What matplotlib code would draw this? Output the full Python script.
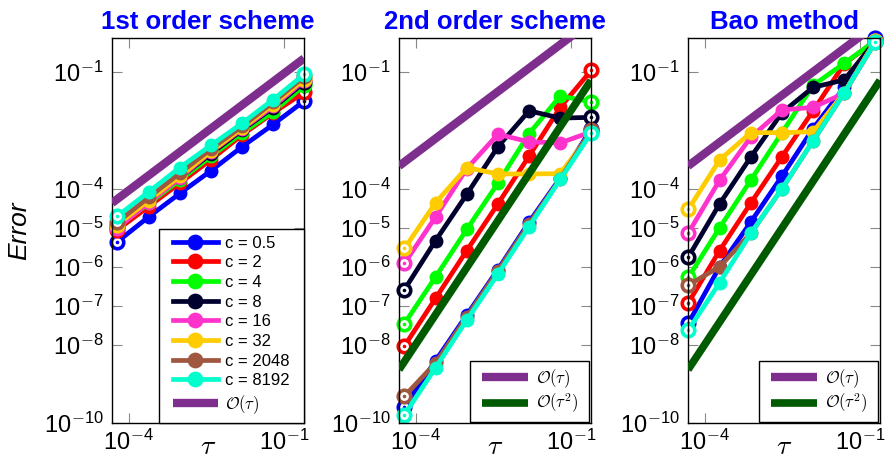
import matplotlib
matplotlib.use('Agg')
import matplotlib.pyplot as plt
from matplotlib.patches import Rectangle
from matplotlib.ticker import FixedLocator, FixedFormatter, NullLocator

plt.rcParams['font.family'] = ['Liberation Sans', 'DejaVu Sans']
plt.rcParams['mathtext.fontset'] = 'cm'

# ---------------- data ----------------
tau_12 = [6.1035e-5, 2.4414e-4, 9.7656e-4, 3.9063e-3, 1.5625e-2, 6.25e-2, 0.25]
tau_3 = [4.8828e-5, 1.9531e-4, 7.8125e-4, 3.125e-3, 1.25e-2, 5.0e-2, 0.2]

c_labels = ['c = 0.5', 'c = 2', 'c = 4', 'c = 8', 'c = 16', 'c = 32', 'c = 2048', 'c = 8192']
c_colors = ['#0000FF', '#FF0000', '#00FF00', '#00002E', '#FF33CC', '#FFCC00', '#A0573F', '#00FFCC']

# 1st order scheme (one row per c)
first_order = [
    [4.4e-6, 1.9e-5, 7.6e-5, 2.9e-4, 1.2e-3, 4.5e-3, 1.8e-2],
    [8.9e-6, 3.5e-5, 1.4e-4, 5.6e-4, 2.4e-3, 8.9e-3, 3.0e-2],
    [1.05e-5, 4.2e-5, 1.66e-4, 6.8e-4, 2.7e-3, 9.5e-3, 4.5e-2],
    [1.1e-5, 4.7e-5, 1.9e-4, 7.9e-4, 3.2e-3, 1.2e-2, 5.4e-2],
    [1.0e-5, 4.4e-5, 1.9e-4, 8.7e-4, 3.4e-3, 1.3e-2, 6.0e-2],
    [1.2e-5, 5.0e-5, 2.1e-4, 9.1e-4, 3.6e-3, 1.45e-2, 6.6e-2],
    [1.4e-5, 6.0e-5, 2.5e-4, 1.05e-3, 4.0e-3, 1.66e-2, 7.6e-2],
    [2.0e-5, 8.3e-5, 3.5e-4, 1.3e-3, 4.8e-3, 1.95e-2, 8.7e-2],
]

# 2nd order scheme
second_order = [
    [2.6e-10, 3.9e-9, 5.8e-8, 8.5e-7, 1.4e-5, 1.9e-4, 3.5e-3],
    [9.3e-9, 1.55e-7, 2.6e-6, 4.1e-5, 6.9e-4, 1.23e-2, 1.1e-1],
    [3.5e-8, 5.5e-7, 9.1e-6, 1.4e-4, 2.6e-3, 2.4e-2, 1.7e-2],
    [2.6e-7, 4.7e-6, 7.2e-5, 1.2e-3, 1.0e-2, 6.5e-3, 6.8e-3],
    [1.23e-6, 1.9e-5, 3.3e-4, 2.5e-3, 1.6e-3, 1.5e-3, 2.9e-3],
    [2.95e-6, 4.4e-5, 3.5e-4, 2.4e-4, 2.4e-4, 2.45e-4, 2.8e-3],
    [4.8e-10, 3.4e-9, 5.2e-8, 7.9e-7, 1.26e-5, 1.8e-4, 3.2e-3],
    [1.6e-10, 2.6e-9, 4.3e-8, 6.5e-7, 1.07e-5, 1.74e-4, 2.75e-3],
]

# Bao method
bao_method = [
    [3.6e-8, 1.0e-6, 1.4e-5, 2.1e-4, 3.5e-3, 4.0e-2, 0.74],
    [1.2e-7, 2.6e-6, 4.3e-5, 6.6e-4, 1.0e-2, 1.6e-1, 0.63],
    [5.4e-7, 1.0e-5, 1.66e-4, 2.75e-3, 4.5e-2, 1.66e-1, 0.63],
    [1.8e-6, 4.1e-5, 6.5e-4, 8.9e-3, 4.0e-2, 6.2e-2, 0.62],
    [7.4e-6, 1.66e-4, 2.1e-3, 1.05e-2, 1.23e-2, 2.8e-2, 0.63],
    [3.0e-5, 5.5e-4, 2.75e-3, 2.75e-3, 2.9e-3, 2.9e-2, 0.63],
    [3.4e-7, 1.0e-6, 7.2e-6, 1.0e-4, 1.7e-3, 2.9e-2, 0.59],
    [2.4e-8, 3.9e-7, 7.2e-6, 1.0e-4, 1.7e-3, 2.9e-2, 0.59],
]

# reference slopes
tau_ref = [10 ** -4.32, 10 ** -0.61]
ref1_const = [0.9, 8.0, 8.0]      # O(tau) constant per panel
ref2_const = [None, 1.0, 1.0]     # O(tau^2) constant per panel

titles = ['1st order scheme', '2nd order scheme', 'Bao method']
x_ticks = [1e-4, 1e-1]
x_ticklabels = [r'$\mathregular{10}^{-\mathregular{4}}$', r'$\mathregular{10}^{-\mathregular{1}}$']
y_ticks = [1e-10, 1e-8, 1e-7, 1e-6, 1e-5, 1e-4, 1e-1]
y_ticklabels = [r'$\mathregular{10}^{-\mathregular{10}}$', r'$\mathregular{10}^{-\mathregular{8}}$',
                r'$\mathregular{10}^{-\mathregular{7}}$', r'$\mathregular{10}^{-\mathregular{6}}$',
                r'$\mathregular{10}^{-\mathregular{5}}$', r'$\mathregular{10}^{-\mathregular{4}}$',
                r'$\mathregular{10}^{-\mathregular{1}}$']

purple = '#7E2F8E'
dkgreen = '#005A00'

# ---------------- figure ----------------
fig = plt.figure(figsize=(8.88, 4.63), dpi=100)
lefts = [112 / 888, 399 / 888, 688 / 888]
width = 192 / 888
bottom = (463 - 422.7) / 463
height = (422.7 - 38.3) / 463

panels = [(tau_12, first_order), (tau_12, second_order), (tau_3, bao_method)]
legends = []

for i, (tau, data) in enumerate(panels):
    ax = fig.add_axes([lefts[i], bottom, width, height])
    ax.set_xscale('log')
    ax.set_yscale('log')
    series_handles = []
    for vals, lab, col in zip(data, c_labels, c_colors):
        ln, = ax.plot(tau, vals, '-o', color=col, lw=3.4, ms=9, mfc=col, mec=col,
                      mew=1, label=lab, clip_on=False, zorder=2)
        ends_x = [tau[0], tau[-1]]
        ends_y = [vals[0], vals[-1]]
        ax.plot(ends_x, ends_y, 'o', ls='none', ms=9, mfc='white', mec=col, mew=2.6,
                clip_on=False, zorder=2)
        ax.plot(ends_x, ends_y, 'o', ls='none', ms=2.6, mfc=col, mec=col, mew=0,
                clip_on=False, zorder=2)
        series_handles.append(ln)

    r1, = ax.plot(tau_ref, [ref1_const[i] * t for t in tau_ref], color=purple, lw=6,
                  solid_capstyle='butt', zorder=3, label=r'$\mathcal{O}(\tau)$')
    ref_handles = [r1]
    if ref2_const[i] is not None:
        r2, = ax.plot(tau_ref, [ref2_const[i] * t * t for t in tau_ref], color=dkgreen, lw=5.5,
                      solid_capstyle='butt', zorder=3, label=r'$\mathcal{O}(\tau^2)$')
        ref_handles.append(r2)

    ax.set_xlim(10 ** -4.32, 10 ** -0.61)
    ax.set_ylim(1e-10, 10 ** -0.14)
    ax.xaxis.set_major_locator(FixedLocator(x_ticks))
    ax.xaxis.set_major_formatter(FixedFormatter(x_ticklabels))
    ax.xaxis.set_minor_locator(NullLocator())
    ax.yaxis.set_major_locator(FixedLocator(y_ticks))
    ax.yaxis.set_major_formatter(FixedFormatter(y_ticklabels))
    ax.yaxis.set_minor_locator(NullLocator())
    ax.tick_params(direction='in', length=7, width=0.8, color='#888888', top=True, right=True,
                   labelsize=17, pad=6)
    ax.tick_params(axis='x', pad=5)
    for sp in ax.spines.values():
        sp.set_linewidth(1.0)
        sp.set_color('black')

    ax.set_title(titles[i], color='#0000FF', fontweight='bold', fontsize=18.5, pad=7)
    ax.set_xlabel(r'$\tau$', fontsize=20)
    ax.xaxis.set_label_coords(0.5, -0.03)

    if i == 0:
        dx = 7.0 / 192.0
        ax.set_ylabel('Error', fontsize=19, style='italic')
        ax.yaxis.set_label_coords(-0.42, 0.5)
        handles = series_handles + ref_handles
        leg = ax.legend(handles=handles, loc='lower right', bbox_to_anchor=(1 - dx, 0.0),
                        borderaxespad=0.0, fontsize=12, handlelength=2.7, labelspacing=0.28,
                        borderpad=0.42, handletextpad=0.45, frameon=False, markerscale=1.15)
    else:
        dx = 5.0 / 192.0
        leg = ax.legend(handles=ref_handles, loc='lower right', bbox_to_anchor=(1 - dx - 2 / 192, 1 / 384),
                        borderaxespad=0.0, fontsize=12, handlelength=2.8, labelspacing=0.12,
                        borderpad=0.38, handletextpad=0.45, frameon=False)
    leg.set_zorder(5)
    legends.append((ax, leg, dx))

# draw custom legend frames (wider horizontal padding than vertical)
fig.canvas.draw()
renderer = fig.canvas.get_renderer()
for ax, leg, dx in legends:
    bb = leg.get_window_extent(renderer)
    inv = ax.transAxes.inverted()
    (x0, y0) = inv.transform((bb.x0, bb.y0))
    (x1, y1) = inv.transform((bb.x1, bb.y1))
    rect = Rectangle((x0 - dx, y0), (x1 - x0) + 2 * dx, y1 - y0, transform=ax.transAxes,
                     facecolor='white', edgecolor='black', linewidth=1.0, zorder=4.9,
                     clip_on=False)
    ax.add_patch(rect)

fig.savefig('out.png', dpi=100)
